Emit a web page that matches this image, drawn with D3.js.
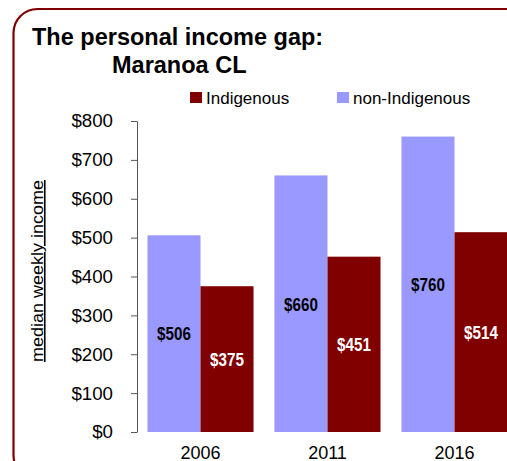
<!DOCTYPE html>
<html>
<head>
<meta charset="utf-8">
<script src="https://cdn.jsdelivr.net/npm/d3@7"></script>
<style>
    html, body { margin: 0; padding: 0; background: #ffffff; }
    svg { display: block; }
</style>
</head>
<body>
<div id="container"></div>
<script>
const years = ['2006', '2011', '2016'];
const indigenous = [375, 451, 514];
const nonIndigenous = [506, 660, 760];
const yTicks = [0, 100, 200, 300, 400, 500, 600, 700, 800];
const seriesNames = ['non-Indigenous', 'Indigenous'];

const colors = {
    'Indigenous': '#800000',
    'non-Indigenous': '#9999ff'
};

const svg = d3.select('#container')
    .append('svg')
    .attr('width', 507)
    .attr('height', 461);

// rounded frame
svg.append('rect')
    .attr('x', 13.5)
    .attr('y', 9)
    .attr('width', 520)
    .attr('height', 470)
    .attr('rx', 24)
    .attr('fill', 'none')
    .attr('stroke', '#800000')
    .attr('stroke-width', 2.2);

// title
svg.append('text')
    .attr('x', 32)
    .attr('y', 45)
    .text('The personal income gap:')
    .style('font-family', '"Liberation Sans", Arial, sans-serif')
    .style('font-weight', 700)
    .style('font-size', '23.5px');
svg.append('text')
    .attr('x', 112)
    .attr('y', 73)
    .text('Maranoa CL')
    .style('font-family', '"Liberation Sans", Arial, sans-serif')
    .style('font-weight', 700)
    .style('font-size', '23.5px');

// scales
const x = d3.scaleBand()
    .domain(years)
    .range([137, 518])
    .paddingInner(0.165)
    .paddingOuter(0.0825);
const xs = d3.scaleBand()
    .domain(seriesNames)
    .range([0, x.bandwidth()]);
const y = d3.scaleLinear()
    .domain([0, 800])
    .range([432, 121]);

// y axis
const yAxis = svg.append('g')
    .attr('transform', 'translate(137,0)')
    .call(d3.axisLeft(y)
        .tickValues(yTicks)
        .tickSize(6)
        .tickSizeOuter(0)
        .tickPadding(18)
        .tickFormat(d => '$' + d));
yAxis.select('.domain').attr('stroke', '#555555');
yAxis.selectAll('.tick line').attr('stroke', '#555555');
yAxis.selectAll('.tick text')
    .attr('fill', '#000000')
    .style('font-family', '"Liberation Sans", Arial, sans-serif')
    .style('font-size', '18.7px');

// y axis title
svg.append('text')
    .attr('transform', 'translate(43,271) rotate(-90) scale(1,0.9)')
    .attr('text-anchor', 'middle')
    .text('median weekly income')
    .style('font-family', '"Liberation Sans", Arial, sans-serif')
    .style('font-size', '18px')
    .style('text-decoration', 'underline');

// bars
const rows = years.map((yr, i) => ({
    year: yr,
    values: [
        { key: 'non-Indigenous', value: nonIndigenous[i] },
        { key: 'Indigenous', value: indigenous[i] }
    ]
}));

const groups = svg.selectAll('.year')
    .data(rows)
    .enter()
    .append('g')
    .attr('class', 'year')
    .attr('transform', d => `translate(${x(d.year)},0)`);

groups.selectAll('rect')
    .data(d => d.values)
    .enter()
    .append('rect')
    .attr('x', d => xs(d.key))
    .attr('y', d => y(d.value))
    .attr('width', xs.bandwidth())
    .attr('height', d => y(0) - y(d.value))
    .attr('fill', d => colors[d.key]);

// value labels, squeezed to look like a narrow bold face
groups.selectAll('.val')
    .data(d => d.values)
    .enter()
    .append('text')
    .attr('class', 'val')
    .attr('transform', d => `translate(${xs(d.key) + xs.bandwidth() / 2},${(y(d.value) + y(0)) / 2}) scale(0.8,1)`)
    .attr('dy', '0.36em')
    .attr('text-anchor', 'middle')
    .attr('fill', d => d.key === 'Indigenous' ? '#ffffff' : '#000000')
    .text(d => '$' + d.value)
    .style('font-family', '"Liberation Sans", Arial, sans-serif')
    .style('font-weight', 700)
    .style('font-size', '19px');

// x labels
svg.selectAll('.xlab')
    .data(years)
    .enter()
    .append('text')
    .attr('class', 'xlab')
    .attr('x', d => x(d) + x.bandwidth() / 2)
    .attr('y', 459)
    .attr('text-anchor', 'middle')
    .text(d => d)
    .style('font-family', '"Liberation Sans", Arial, sans-serif')
    .style('font-size', '18px');

// legend
const legendItems = [
    { key: 'Indigenous', x: 190 },
    { key: 'non-Indigenous', x: 337 }
];
const legend = svg.selectAll('.legend')
    .data(legendItems)
    .enter()
    .append('g')
    .attr('class', 'legend')
    .attr('transform', d => `translate(${d.x},92)`);
legend.append('rect')
    .attr('width', 12)
    .attr('height', 11)
    .attr('fill', d => colors[d.key]);
legend.append('text')
    .attr('x', 16)
    .attr('y', 12)
    .text(d => d.key)
    .style('font-family', '"Liberation Sans", Arial, sans-serif')
    .style('font-size', '17px');
</script>
</body>
</html>
